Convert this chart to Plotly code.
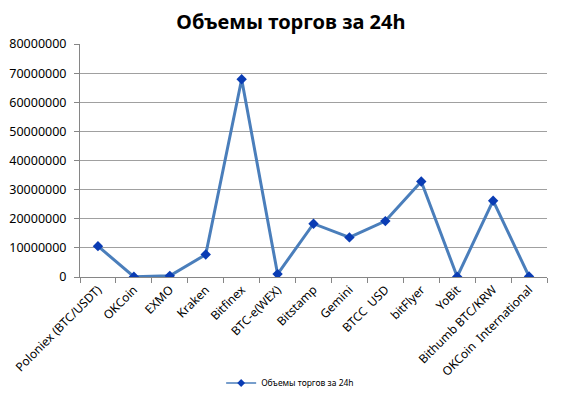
import plotly.graph_objects as go

exchanges = ["Poloniex (BTC/USDT)", "OKCoin", "EXMO", "Kraken", "Bitfinex", "BTC-e(WEX)",
             "Bitstamp", "Gemini", "BTCC  USD", "bitFlyer", "YoBit", "Bithumb BTC/KRW",
             "OKCoin  International"]
volumes = [10600000, 100000, 400000, 7700000, 67900000, 1000000,
           18300000, 13600000, 19200000, 32800000, 100000, 26200000, 200000]
y_ticks = [0, 10000000, 20000000, 30000000, 40000000, 50000000, 60000000, 70000000, 80000000]
title = "Объемы торгов за 24h"
series_name = "Объемы торгов за 24h"

line_color = "#4A7EBB"
marker_color = "#0A3CB4"

fig = go.Figure()
fig.add_trace(go.Scatter(
    x=exchanges, y=volumes, name=series_name, mode="lines+markers",
    line=dict(color=line_color, width=3),
    marker=dict(symbol="diamond", size=8, color=marker_color),
    showlegend=False,
))
# legend entry (thin line, small marker as in the reference legend)
fig.add_trace(go.Scatter(
    x=[exchanges[0]], y=[None], name=series_name, mode="lines+markers",
    line=dict(color=line_color, width=1.5),
    marker=dict(symbol="diamond", size=6, color=marker_color),
    showlegend=True, hoverinfo="skip",
))

fig.update_layout(
    width=575, height=389,
    margin=dict(l=72, r=36, t=36, b=120, autoexpand=False),
    paper_bgcolor="white", plot_bgcolor="white",
    font=dict(family="Noto Sans, Open Sans, sans-serif", size=12, color="#000000"),
    title=dict(text="<b>" + title + "</b>", x=0.492, xanchor="center", y=0.965, yanchor="middle",
               font=dict(size=20, family="Noto Sans, sans-serif", color="#000")),
    showlegend=True,
    legend=dict(orientation="h", x=0.45, xanchor="center", y=-0.455, yanchor="middle",
                font=dict(size=8.5), bgcolor="rgba(0,0,0,0)", itemwidth=30),
    xaxis=dict(type="category", tickangle=-45, showgrid=False, showline=True,
               linecolor="#868686", linewidth=1, ticks="outside", ticklen=5,
               tickcolor="#868686", tickson="boundaries", tickfont=dict(size=12),
               range=[-0.5, len(exchanges) - 0.5], automargin=False),
    yaxis=dict(range=[0, 80000000], tickvals=y_ticks,
               ticktext=[str(v) for v in y_ticks], showgrid=True,
               gridcolor="#A0A0A0", gridwidth=1, showline=True, linecolor="#868686",
               ticks="outside", ticklen=5, tickcolor="#868686", zeroline=False,
               tickfont=dict(size=12.5), ticklabelstandoff=5, automargin=False),
)

fig.write_html("out.html")
